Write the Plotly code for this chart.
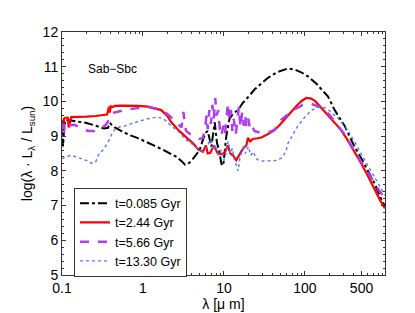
import plotly.graph_objects as go
import numpy as np

# wavelengths (micron) and log(lambda L_lambda / L_sun) per age
wl_a = [0.1, 0.103, 0.106, 0.11, 0.13, 0.16, 0.2, 0.23, 0.28, 0.33, 0.37, 0.39, 0.41, 0.45, 0.55, 0.7, 0.85, 1.0, 1.15, 1.4, 1.8, 2.2, 2.6, 3.0, 3.3, 3.6, 4.0, 4.5, 5.0, 5.6, 6.0, 6.3, 7.0, 7.7, 8.2, 8.7, 9.3, 9.8, 10.7, 11.7, 13.0, 14.9, 17.0, 19.8, 24, 29, 35, 45, 55, 62, 75, 90, 109, 140, 170, 192, 233, 282, 309, 372, 411, 500, 600, 720, 872, 973]
val_a = [9.45, 8.7, 9.2, 9.47, 9.45, 9.42, 9.38, 9.34, 9.28, 9.22, 9.24, 9.38, 9.33, 9.25, 9.14, 9.02, 8.95, 8.88, 8.8, 8.72, 8.6, 8.5, 8.4, 8.28, 8.18, 8.2, 8.3, 8.45, 8.6, 8.95, 9.1, 9.15, 8.7, 9.4, 8.8, 8.6, 8.2, 8.15, 9.0, 9.5, 9.65, 9.75, 9.95, 10.12, 10.35, 10.52, 10.68, 10.84, 10.92, 10.95, 10.92, 10.84, 10.72, 10.5, 10.28, 10.15, 9.75, 9.42, 9.3, 8.9, 8.69, 8.35, 8.02, 7.65, 7.2, 6.98]

wl_b = [0.1, 0.103, 0.106, 0.11, 0.118, 0.121, 0.13, 0.16, 0.2, 0.26, 0.32, 0.36, 0.37, 0.38, 0.39, 0.4, 0.42, 0.45, 0.55, 0.7, 0.87, 1.15, 1.4, 1.68, 2.0, 2.24, 2.8, 3.6, 4.2, 4.8, 5.5, 6.0, 6.3, 6.8, 7.5, 8.4, 9.2, 10.2, 11.2, 12.0, 12.9, 14.2, 15.5, 17.2, 18.9, 19.8, 21, 22.8, 26, 29, 35, 42, 50, 60, 70, 80, 92, 104, 120, 135, 150, 175, 200, 240, 277, 330, 400, 500, 600, 720, 850, 973]
val_b = [9.47, 9.1, 9.5, 9.53, 9.53, 9.25, 9.55, 9.55, 9.56, 9.58, 9.6, 9.62, 9.72, 9.85, 9.68, 9.86, 9.84, 9.87, 9.88, 9.88, 9.87, 9.85, 9.8, 9.75, 9.58, 9.4, 9.15, 8.92, 8.78, 8.62, 8.55, 8.73, 8.5, 8.52, 8.73, 8.5, 8.48, 8.52, 8.73, 8.5, 8.45, 8.31, 8.45, 8.64, 8.73, 8.95, 8.85, 8.92, 8.94, 8.96, 9.06, 9.17, 9.35, 9.56, 9.75, 9.89, 10.02, 10.1, 10.08, 10.0, 9.88, 9.7, 9.56, 9.35, 9.19, 8.92, 8.6, 8.2, 7.85, 7.48, 7.15, 6.92]

wl_c = [0.1, 0.104, 0.106, 0.108, 0.11, 0.14, 0.18, 0.21, 0.25, 0.28, 0.34, 0.37, 0.41, 0.5, 0.59, 0.8, 1.15, 1.5, 1.8, 2.2, 2.7, 3.0, 3.15, 3.25, 3.4, 4.0, 5.0, 5.5, 5.9, 6.1, 6.3, 6.6, 6.9, 7.2, 7.5, 7.8, 8.1, 8.5, 8.9, 9.3, 9.8, 10.3, 10.8, 11.2, 11.7, 12.2, 12.7, 13.2, 14.0, 14.7, 15.3, 16.0, 16.8, 17.5, 18.3, 19.0, 20.0, 21.0, 22.0, 24, 28, 35, 42, 51, 62, 75, 94, 120, 158, 200, 256, 320, 400, 500, 620, 760, 973]
val_c = [9.1, 9.38, 9.1, 9.38, 9.3, 9.33, 9.22, 9.15, 9.15, 9.22, 9.3, 9.42, 9.66, 9.72, 9.75, 9.8, 9.84, 9.78, 9.72, 9.55, 9.35, 9.25, 9.7, 9.45, 9.15, 9.02, 8.92, 8.95, 9.3, 9.6, 9.2, 9.75, 9.35, 9.9, 9.5, 10.1, 9.6, 9.75, 9.2, 9.0, 9.3, 9.05, 9.55, 9.95, 9.45, 9.75, 9.15, 9.5, 9.05, 9.45, 9.85, 9.25, 9.7, 9.3, 9.6, 9.25, 9.5, 9.2, 9.3, 9.14, 9.1, 9.1, 9.18, 9.47, 9.62, 9.78, 9.9, 9.93, 9.82, 9.62, 9.3, 9.0, 8.6, 8.25, 7.9, 7.55, 7.2]

wl_d = [0.1, 0.11, 0.13, 0.15, 0.17, 0.2, 0.23, 0.26, 0.28, 0.32, 0.37, 0.41, 0.45, 0.52, 0.59, 0.7, 0.87, 1.15, 1.5, 1.8, 2.24, 2.7, 3.3, 3.9, 4.8, 5.5, 6.2, 6.8, 7.4, 7.8, 8.5, 9.3, 10.0, 10.6, 11.3, 12.0, 12.7, 13.5, 14.3, 15.0, 15.8, 16.7, 17.5, 18.5, 20, 21.5, 23, 25, 28, 35, 45, 52, 58, 62, 70, 82, 100, 120, 145, 175, 210, 260, 330, 420, 520, 650, 800, 973]
val_d = [8.35, 8.4, 8.45, 8.4, 8.36, 8.3, 8.22, 8.25, 8.45, 8.6, 8.82, 9.05, 9.2, 9.27, 9.29, 9.35, 9.42, 9.5, 9.55, 9.5, 9.29, 9.15, 8.92, 8.8, 8.64, 8.55, 8.7, 8.9, 8.6, 8.75, 8.45, 8.6, 8.3, 8.5, 8.85, 8.5, 8.65, 8.3, 8.15, 8.0, 8.4, 8.55, 8.75, 8.5, 8.7, 8.45, 8.55, 8.35, 8.28, 8.28, 8.3, 8.38, 8.55, 8.8, 9.0, 9.3, 9.55, 9.74, 9.84, 9.82, 9.7, 9.5, 9.2, 8.8, 8.4, 8.0, 7.65, 7.3]

labels = ["t=0.085 Gyr", "t=2.44 Gyr", "t=5.66 Gyr", "t=13.30 Gyr"]
x_tick_vals = [0.1, 1, 10, 100, 500]
x_tick_text = ["0.1", "1", "10", "100", "500"]
y_tick_vals = [5, 6, 7, 8, 9, 10, 11, 12]

series = [
    (wl_a, val_a, dict(color="black", width=2, dash="dashdot")),
    (wl_b, val_b, dict(color="#ff0000", width=2.2, dash="solid")),
    (wl_c, val_c, dict(color="#b03cf0", width=2.5, dash="dash")),
    (wl_d, val_d, dict(color="#5575ff", width=1.4, dash="dot")),
]

fig = go.Figure()
for (x, y, ln), name in zip(series, labels):
    fig.add_trace(go.Scatter(x=x, y=y, mode="lines", name=name, line=ln))

minor_x = []
for d in [0.1, 1, 10, 100]:
    for k in range(2, 10):
        v = d * k
        if v < 980:
            minor_x.append(v)

font_family = "Liberation Sans, Arial, sans-serif"
fig.update_layout(
    width=415, height=313,
    margin=dict(l=54, r=38, t=24, b=37),
    plot_bgcolor="white", paper_bgcolor="white",
    font=dict(family=font_family, size=13, color="black"),
    showlegend=True,
    legend=dict(x=0.037, y=0.36, xanchor="left", yanchor="top",
                bordercolor="#333", borderwidth=1, bgcolor="white",
                font=dict(size=12.5), tracegroupgap=0, itemwidth=30),
    xaxis=dict(type="log", range=[-1, np.log10(975)],
               tickvals=x_tick_vals, ticktext=x_tick_text,
               ticks="inside", ticklen=4, tickcolor="#333",
               showline=True, linecolor="#333", linewidth=1, mirror="ticks",
               showgrid=False, zeroline=False,
               minor=dict(tickvals=minor_x, ticks="inside", ticklen=2, tickcolor="#333", showgrid=False),
               title=dict(text="λ [μ m]", standoff=3, font=dict(size=14)),
               tickfont=dict(size=14)),
    yaxis=dict(range=[5, 12], tickvals=y_tick_vals,
               ticks="inside", ticklen=4, tickcolor="#333",
               showline=True, linecolor="#333", linewidth=1, mirror="ticks",
               showgrid=False, zeroline=False,
               minor=dict(dtick=0.2, ticks="inside", ticklen=2, tickcolor="#333", showgrid=False),
               title=dict(text="log(λ · L<sub>λ</sub> / L<sub>sun</sub>)", standoff=6, font=dict(size=14)),
               tickfont=dict(size=14)),
    annotations=[dict(text="Sab−Sbc", x=0.074, y=0.849, xref="paper", yref="paper",
                      xanchor="left", yanchor="middle", showarrow=False,
                      font=dict(size=12))],
)

fig.write_html("out.html")
